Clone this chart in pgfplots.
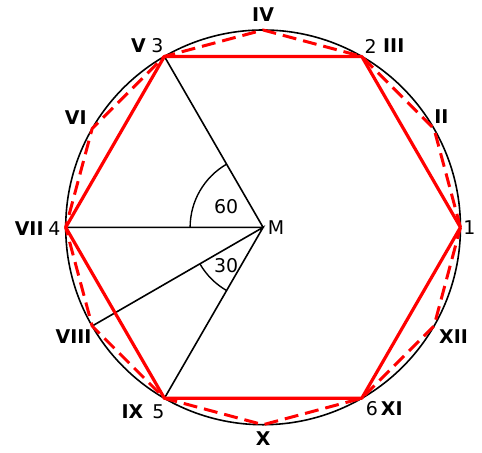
\documentclass[border=0pt]{standalone}
\usepackage{pgfplots}
\pgfplotsset{compat=1.18}
\usepackage{fontspec}
\setmainfont{DejaVu Sans}
\begin{document}
\begin{tikzpicture}
\begin{axis}[x=99pt,y=99pt,xmin=-1.333,xmax=1.101,ymin=-1.141,ymax=1.152,
  hide axis,clip=false,scale only axis]
\path (rel axis cs:0,0) rectangle (rel axis cs:1,1);
\draw[line width=0.8pt] (axis cs:0,0) circle[radius=99pt];
% radii
\addplot[black,line width=0.8pt] coordinates {(-0.5,0.866) (0,0) (-1,0)};
\addplot[black,line width=0.8pt] coordinates {(-0.866,-0.5) (0,0) (-0.5,-0.866)};
% angle arcs
\draw[line width=0.7pt] (axis cs:0,0) ++(120:36.6pt) arc[start angle=120,end angle=180,radius=36.6pt];
\draw[line width=0.7pt] (axis cs:0,0) ++(210:36.6pt) arc[start angle=210,end angle=240,radius=36.6pt];
% dodecagon
\addplot[red,line width=1.5pt,dash pattern=on 7pt off 3.5pt,line join=round] coordinates {
(1,0) (0.866,0.5) (0.5,0.866) (0,1) (-0.5,0.866) (-0.866,0.5) (-1,0)
(-0.866,-0.5) (-0.5,-0.866) (0,-1) (0.5,-0.866) (0.866,-0.5) (1,0)};
% hexagon
\addplot[red,line width=1.6pt,line join=round] coordinates {
(1,0) (0.5,0.866) (-0.5,0.866) (-1,0) (-0.5,-0.866) (0.5,-0.866) (1,0)};
\begin{scope}[font=\fontsize{9.5}{11}\selectfont]
\node at (axis cs:0,1.076) {\bfseries IV};
\node at (axis cs:-0.631,0.919) {\bfseries V};
\node at (axis cs:-0.535,0.919) {3};
\node at (axis cs:0.545,0.919) {2};
\node at (axis cs:0.662,0.919) {\bfseries III};
\node at (axis cs:-0.949,0.556) {\bfseries VI};
\node at (axis cs:0.904,0.561) {\bfseries II};
\node at (axis cs:-1.185,-0.005) {\bfseries VII};
\node at (axis cs:-1.058,-0.005) {4};
\node at (axis cs:1.045,0) {1};
\node at (axis cs:0.066,0) {M};
\node at (axis cs:-0.96,-0.556) {\bfseries VIII};
\node at (axis cs:0.965,-0.556) {\bfseries XII};
\node at (axis cs:-0.662,-0.934) {\bfseries IX};
\node at (axis cs:-0.530,-0.934) {5};
\node at (axis cs:0.551,-0.919) {6};
\node at (axis cs:0.652,-0.919) {\bfseries XI};
\node at (axis cs:0,-1.071) {\bfseries X};
\node at (axis cs:-0.187,0.106) {60};
\node at (axis cs:-0.187,-0.192) {30};
\end{scope}
\end{axis}
\end{tikzpicture}
\end{document}
